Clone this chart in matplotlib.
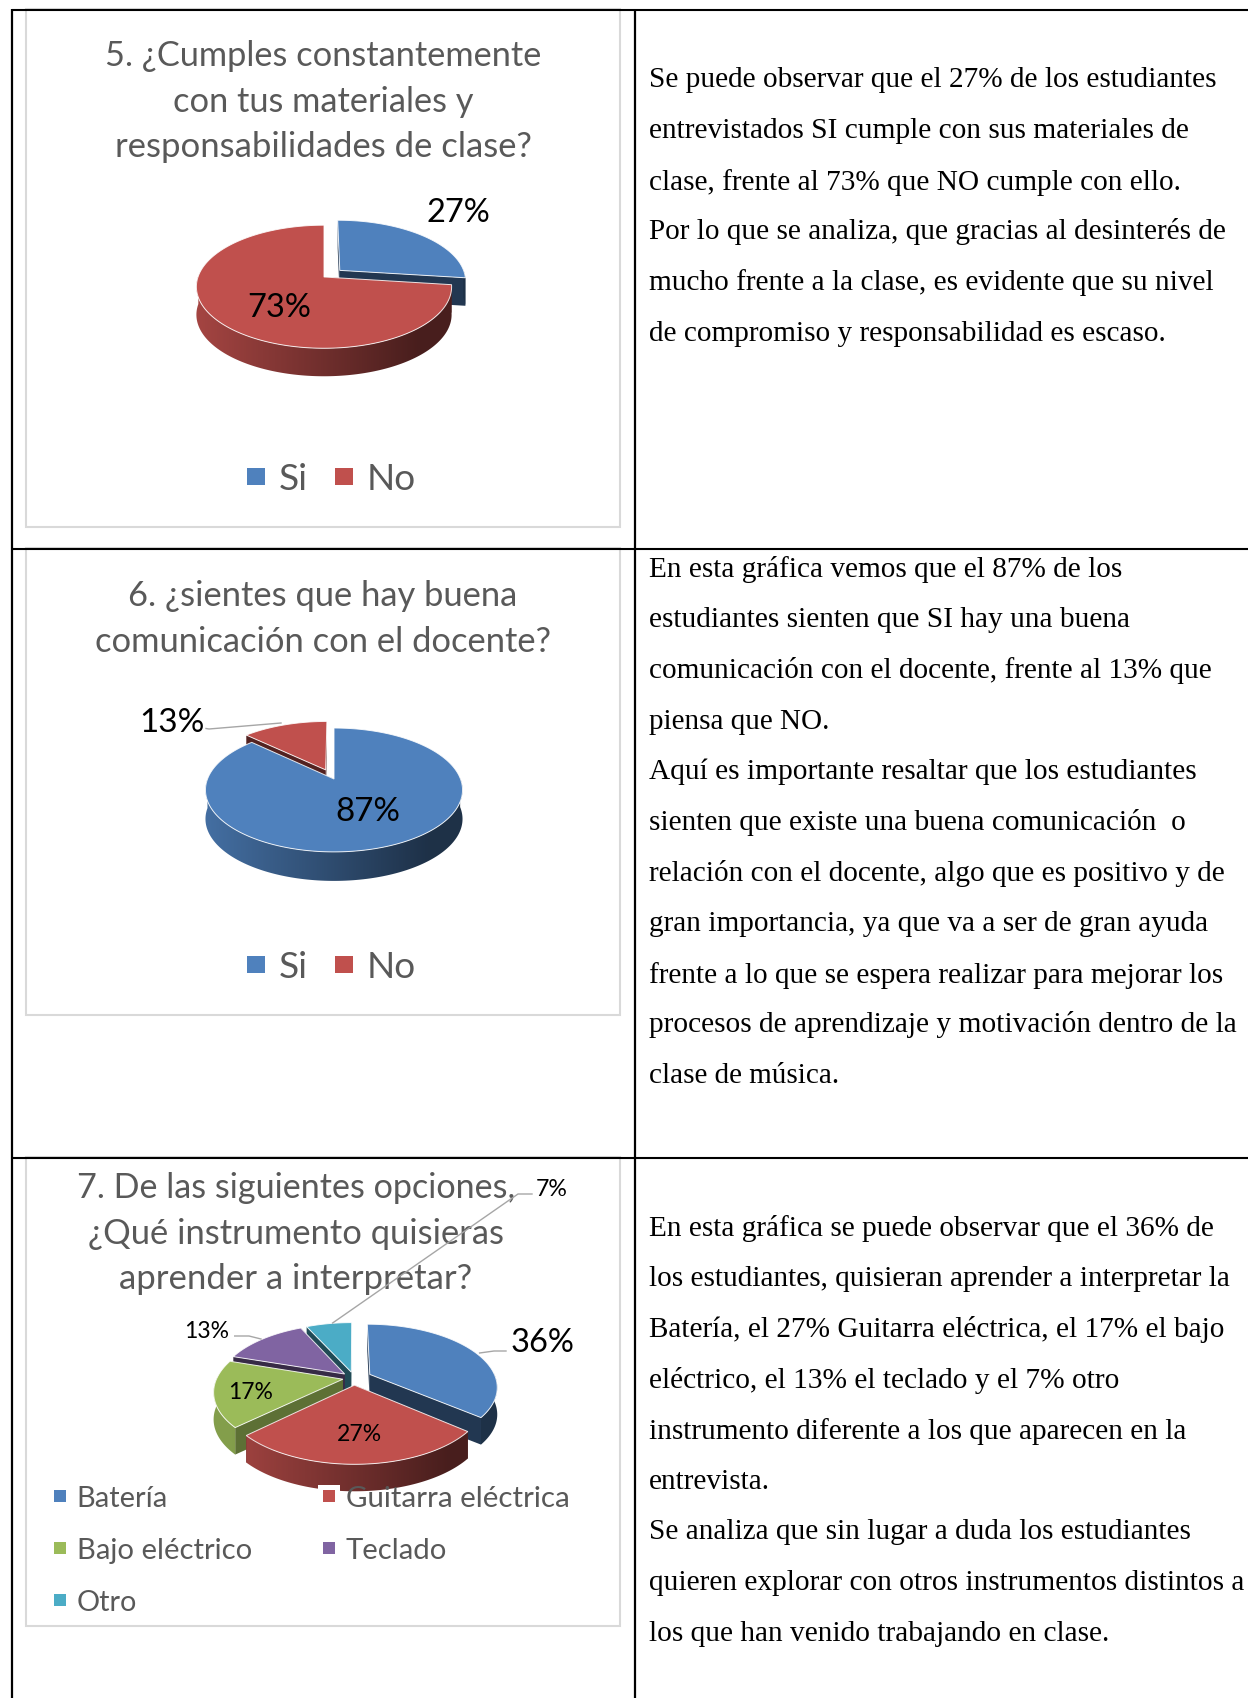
import numpy as np
import matplotlib
matplotlib.use("Agg")
import matplotlib.pyplot as plt
from matplotlib.patches import Rectangle, Polygon

# ---------- data ----------
q5_categories = ["Si", "No"]
q5_values = [27, 73]
q6_categories = ["Si", "No"]
q6_values = [87, 13]
q7_categories = ["Batería", "Guitarra eléctrica", "Bajo eléctrico", "Teclado", "Otro"]
q7_values = [36, 27, 17, 13, 7]

q5_title = ["5. ¿Cumples constantemente", "con tus materiales y", "responsabilidades de clase?"]
q6_title = ["6. ¿sientes que hay buena", "comunicación con el docente?"]
q7_title = ["7. De las siguientes opciones,", "¿Qué instrumento quisieras", "aprender a interpretar?"]

q5_text = ["Se puede observar que el 27% de los estudiantes",
           "entrevistados SI cumple con sus materiales de",
           "clase, frente al 73% que NO cumple con ello.",
           "Por lo que se analiza, que gracias al desinterés de",
           "mucho frente a la clase, es evidente que su nivel",
           "de compromiso y responsabilidad es escaso."]
q6_text = ["En esta gráfica vemos que el 87% de los",
           "estudiantes sienten que SI hay una buena",
           "comunicación con el docente, frente al 13% que",
           "piensa que NO.",
           "Aquí es importante resaltar que los estudiantes",
           "sienten que existe una buena comunicación  o",
           "relación con el docente, algo que es positivo y de",
           "gran importancia, ya que va a ser de gran ayuda",
           "frente a lo que se espera realizar para mejorar los",
           "procesos de aprendizaje y motivación dentro de la",
           "clase de música."]
q7_text = ["En esta gráfica se puede observar que el 36% de",
           "los estudiantes, quisieran aprender a interpretar la",
           "Batería, el 27% Guitarra eléctrica, el 17% el bajo",
           "eléctrico, el 13% el teclado y el 7% otro",
           "instrumento diferente a los que aparecen en la",
           "entrevista.",
           "Se analiza que sin lugar a duda los estudiantes",
           "quieren explorar con otros instrumentos distintos a",
           "los que han venido trabajando en clase."]

# ---------- style ----------
COLORS = ["#4F81BD", "#C0504D", "#9BBB59", "#8064A2", "#4BACC6"]
S = 1248 / 1152
FW, FH = 1248, 1699
TITLE = "#595959"

fig = plt.figure(figsize=(FW / 100, FH / 100), dpi=100)
ax = fig.add_axes([0, 0, 1, 1])
ax.set_xlim(0, FW)
ax.set_ylim(FH, 0)
ax.axis("off")
renderer = fig.canvas.get_renderer()


def put(s, x, y, width, family="Lato", color="black", ha="center", zorder=20):
    t = ax.text(x, y + 2.2, s, family=family, color=color, ha=ha, va="center",
                fontsize=20, zorder=zorder)
    w = t.get_window_extent(renderer).width
    t.set_fontsize(20 * width / w)
    return t


def rgb(c, f):
    return tuple(min(1, v * f) for v in matplotlib.colors.to_rgb(c))


def pie3d(values, colors, cx, cy, R, ry, k, depth, explode):
    total = sum(values)
    edges = np.concatenate([[0], np.cumsum(values)]) / total * 2 * np.pi

    def proj(u, v, ou, ov):
        uu, vv = u + ou, v + ov
        w = 1 + k * vv
        return cx + R * uu / w, cy - ry * vv / w

    order = sorted(range(len(values)),
                   key=lambda i: -np.cos((edges[i] + edges[i + 1]) / 2))
    for n, i in enumerate(order):
        a0, a1 = edges[i], edges[i + 1]
        mid = (a0 + a1) / 2
        e = explode[i]
        ou, ov = e * np.sin(mid), e * np.cos(mid)
        t = np.linspace(a0, a1, 240)
        px, py = proj(np.sin(t), np.cos(t), ou, ov)
        ax_, ay_ = proj(0, 0, ou, ov)
        z = 3 + n * 3
        cutf = 0.6 if colors[i] == "#9BBB59" else 0.43
        for ang in (a0, a1):
            ex, ey = proj(np.sin(ang), np.cos(ang), ou, ov)
            ax.add_patch(Polygon([(ax_, ay_), (ex, ey), (ex, ey + depth), (ax_, ay_ + depth)],
                                 closed=True, fc=rgb(colors[i], cutf), ec="none", zorder=z))
        mask = np.cos(t) <= 0.02
        if mask.sum() > 1:
            wx, wy = px[mask], py[mask]
            wall = np.vstack([np.column_stack([wx, wy]),
                              np.column_stack([wx[::-1], wy[::-1] + depth])])
            clip = Polygon(wall, closed=True, transform=ax.transData, fc="none", ec="none")
            ax.add_patch(clip)
            left, right = cx - R - 30, cx + R + 30
            frac = np.linspace(0, 1, 256)
            # left light to right dark, as the reference's wall shading
            fac = 0.85 - 0.47 * np.clip((frac - 0.1) / 0.7, 0, 1)
            grad = np.array([[rgb(colors[i], f) for f in fac]])
            im = ax.imshow(grad, extent=(left, right, wy.max() + depth + 5, wy.min() - 5),
                           aspect="auto", interpolation="bilinear", zorder=z + 1)
            im.set_clip_path(clip)
        top = [(ax_, ay_)] + list(zip(px, py))
        ax.add_patch(Polygon(top, closed=True, fc=colors[i], ec=(1, 1, 1, 0.85),
                             lw=0.7, zorder=z + 2))
    ax.set_xlim(0, FW)
    ax.set_ylim(FH, 0)


def frame(y0, y1):
    ax.add_patch(Rectangle((25.5, y0), 594.5, y1 - y0, fc="white", ec="#D9D9D9", lw=1.5, zorder=1))


def leader(xs, ys):
    ax.plot(xs, ys, color="#A6A6A6", lw=1.0, zorder=30)


def legend_item(x, y, size, color, label, tx, width, z=25):
    ax.add_patch(Rectangle((x, y - size / 2), size, size, fc=color, ec="none", zorder=z))
    put(label, tx, y, width, color=TITLE, ha="left", zorder=z)


# ---------- table ----------
for y in (10.5, 550, 1158.5):
    ax.plot([12, FW], [y, y], color="black", lw=1.5, zorder=40, solid_capstyle="butt")
for x in (12, 635):
    ax.plot([x, x], [10, FH], color="black", lw=1.6, zorder=40, solid_capstyle="butt")

# ---------- chart 5 ----------
frame(10, 528)
for s, y, w in zip(q5_title, (54, 100, 145), (438, 301, 418)):
    put(s, 323, y, w, color=TITLE)
pie3d(q5_values, COLORS, 324, 278, 126, 60, 0.158, 28, [0.17, 0.0])
put(f"{q5_values[0]}%", 458, 211, 64)
put(f"{q5_values[1]}%", 279, 306, 64)
legend_item(247, 477.5, 17.5, COLORS[0], q5_categories[0], 279, 29)
legend_item(335, 477.5, 17.5, COLORS[1], q5_categories[1], 367, 49)

# ---------- chart 6 ----------
frame(549, 1016)
for s, y, w in zip(q6_title, (594, 640), (390, 457)):
    put(s, 323, y, w, color=TITLE)
pie3d(q6_values, COLORS, 334, 780, 126.5, 60, 0.177, 29, [0.0, 0.17])
leader([206, 209, 281], [729.5, 730, 724])
put(f"{q6_values[1]}%", 172, 720.5, 65)
put(f"{q6_values[0]}%", 368, 810, 65)
legend_item(247, 965.5, 17.5, COLORS[0], q6_categories[0], 279, 29)
legend_item(335, 965.5, 17.5, COLORS[1], q6_categories[1], 367, 49)

# ---------- chart 7 ----------
frame(1158, 1627)
for s, y, w in zip(q7_title, (1186, 1232, 1277), (440, 417, 354)):
    put(s, 296, y, w, color=TITLE)
pie3d(q7_values, COLORS, 354, 1379, 126, 61, 0.19, 27, [0.14, 0.115, 0.09, 0.1, 0.1])
leader([532, 518, 332.6], [1195, 1195, 1324])
leader([234.7, 249, 261], [1337, 1337, 1340])
leader([506, 494, 479.6], [1352, 1352, 1354])
put(f"{q7_values[4]}%", 552, 1187.5, 32)
put(f"{q7_values[3]}%", 207, 1329.6, 45)
put(f"{q7_values[0]}%", 542, 1341, 64)
put(f"{q7_values[1]}%", 359, 1432, 45)
put(f"{q7_values[2]}%", 251, 1390, 45)
ax.add_patch(Rectangle((318, 1486), 22, 24, fc="white", ec="none", zorder=24))
leg_x = [53.5, 322.5, 53.5, 322.5, 53.5]
leg_tx = [76.7, 346, 76.7, 346, 76.7]
leg_y = [1497, 1497, 1549, 1549, 1601]
leg_w = [91, 224, 175, 101, 60]
for i, c in enumerate(q7_categories):
    legend_item(leg_x[i], leg_y[i], 12.5, COLORS[i], c, leg_tx[i], leg_w[i])

# ---------- right column ----------
blocks = [
    (q5_text, [72, 119, 166, 212, 259, 306], [1124, 1097, 1090, 1133, 1120, 1077]),
    (q6_text, [524, 570, 617, 664, 710, 757, 804, 851, 898, 944, 991],
     [1036, 1043, 1119, 766, 1105, 1094, 1131, 1116, 1130, 1141, 775]),
    (q7_text, [1132, 1179, 1225, 1272, 1319, 1366, 1412, 1459, 1506],
     [1121, 1137, 1131, 1033, 1096, 711, 1100, 1148, 1024]),
]
for lines, ys, ends in blocks:
    for s, y, e in zip(lines, ys, ends):
        put(s, 599 * S, y * S, (e - 599) * S, family="Liberation Serif", ha="left")

fig.savefig("out.png", dpi=100)
